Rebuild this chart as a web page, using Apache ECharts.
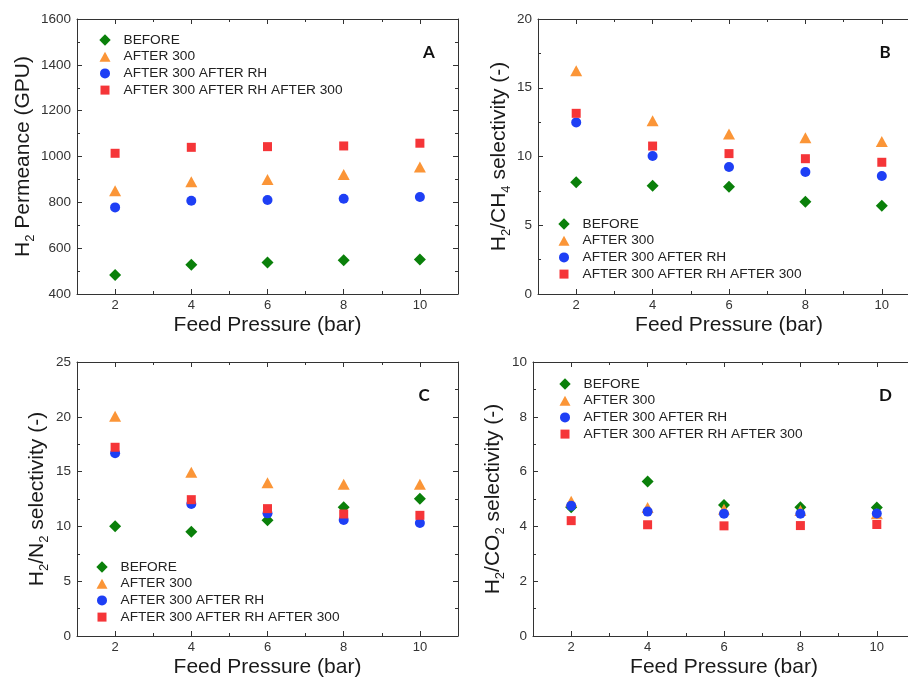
<!DOCTYPE html>
<html>
<head>
<meta charset="utf-8">
<script src="https://cdn.jsdelivr.net/npm/echarts@6/dist/echarts.min.js"></script>
<style>
html,body{margin:0;padding:0;background:#fff;}
#chart{width:908px;height:678px;}
</style>
</head>
<body>
<div id="chart"></div>
<script>
// ---------- DATA ----------
const pressures = [2, 4, 6, 8, 10];
const seriesNames = ['BEFORE', 'AFTER 300', 'AFTER 300 AFTER RH', 'AFTER 300 AFTER RH AFTER 300'];
const xMajorTicks = [2, 4, 6, 8, 10];
const xMinorTicks = [3, 5, 7, 9];

// Panel A: H2 permeance (GPU)
const permBefore     = [483, 528, 538, 547, 551];
const permAfter300   = [851, 890, 900, 922, 954];
const permAfterRH    = [778, 807, 810, 816, 823];
const permAfterRH300 = [1014, 1040, 1043, 1046, 1058];

// Panel B: H2/CH4 selectivity
const ch4Before     = [8.12, 7.88, 7.80, 6.71, 6.42];
const ch4After300   = [16.24, 12.60, 11.64, 11.37, 11.10];
const ch4AfterRH    = [12.48, 10.04, 9.24, 8.87, 8.58];
const ch4AfterRH300 = [13.14, 10.76, 10.21, 9.84, 9.58];

// Panel C: H2/N2 selectivity
const n2Before     = [10.01, 9.52, 10.56, 11.74, 12.53];
const n2After300   = [20.04, 14.93, 13.99, 13.84, 13.84];
const n2AfterRH    = [16.67, 12.04, 11.19, 10.58, 10.31];
const n2AfterRH300 = [17.22, 12.44, 11.62, 11.13, 11.01];

// Panel D: H2/CO2 selectivity
const co2Before     = [4.70, 5.64, 4.78, 4.70, 4.69];
const co2After300   = [4.92, 4.69, 4.63, 4.58, 4.46];
const co2AfterRH    = [4.75, 4.54, 4.46, 4.46, 4.47];
const co2AfterRH300 = [4.21, 4.06, 4.02, 4.03, 4.07];

// ---------- STYLE ----------
const FONT = "'Liberation Sans', Arial, sans-serif";
const AXIS_COLOR = '#333';
const LABEL_COLOR = '#333';
const NAME_COLOR = '#1a1a1a';
const markerStyles = [
  { symbol: 'diamond',  size: 12,       color: '#0a800a',
    icon: 'path://M0,0M12,12M6,0.3L11.7,6L6,11.7L0.3,6Z' },
  { symbol: 'triangle', size: [12, 11], color: '#fb9537',
    icon: 'path://M0,0M12,12M6,1L11.5,11L0.5,11Z' },
  { symbol: 'circle',   size: 10,       color: '#1e3ff5',
    icon: 'path://M0,0M12,12M1,6A5,5,0,1,1,11,6A5,5,0,1,1,1,6Z' },
  { symbol: 'rect',     size: 9,        color: '#f53538',
    icon: 'path://M0,0M12,12M1.5,1.5L10.5,1.5L10.5,10.5L1.5,10.5Z' }
];

const panels = [
  { grid: { left: 77, top: 19, width: 381, height: 275 }, yMin: 400, yMax: 1600, yInt: 200,
    yName: '{m|H}{s|2}{m| Permeance (GPU)}', yGap: 42, letter: 'A', letterPos: [429, 53],
    legendPos: [99, 33], data: [permBefore, permAfter300, permAfterRH, permAfterRH300] },
  { grid: { left: 538, top: 19, width: 382, height: 275 }, yMin: 0, yMax: 20, yInt: 5,
    yName: '{m|H}{s|2}{m|/CH}{s|4}{m| selectivity (-)}', yGap: 28, letter: 'B', letterPos: [885, 53],
    legendPos: [558, 217], data: [ch4Before, ch4After300, ch4AfterRH, ch4AfterRH300] },
  { grid: { left: 77, top: 362, width: 381, height: 274 }, yMin: 0, yMax: 25, yInt: 5,
    yName: '{m|H}{s|2}{m|/N}{s|2}{m| selectivity (-)}', yGap: 29, letter: 'C', letterPos: [424, 396],
    legendPos: [96, 560], data: [n2Before, n2After300, n2AfterRH, n2AfterRH300] },
  { grid: { left: 533, top: 362, width: 382, height: 274 }, yMin: 0, yMax: 10, yInt: 2,
    yName: '{m|H}{s|2}{m|/CO}{s|2}{m| selectivity (-)}', yGap: 29, letter: 'D', letterPos: [885.5, 396],
    legendPos: [559, 377], data: [co2Before, co2After300, co2AfterRH, co2AfterRH300] }
];

const nameRich = {
  m: { fontFamily: FONT, fontSize: 21, lineHeight: 21, color: NAME_COLOR, verticalAlign: 'top' },
  s: { fontFamily: FONT, fontSize: 13, lineHeight: 13, color: NAME_COLOR, verticalAlign: 'top', padding: [11, 0, 0, 0] }
};

const grids = [], xAxes = [], yAxes = [], series = [], legends = [], graphics = [];
const lineStyle = { color: AXIS_COLOR, width: 1 };

panels.forEach((p, gi) => {
  grids.push(Object.assign({ containLabel: false, outerBoundsMode: 'none' }, p.grid));
  const baseX = { gridIndex: gi, type: 'value', min: 1, max: 11, splitLine: { show: false } };
  xAxes.push(Object.assign({}, baseX, {
    position: 'bottom',
    axisLine: { show: true, onZero: false, lineStyle },
    axisTick: { show: true, inside: true, length: 5, customValues: xMajorTicks, lineStyle },
    axisLabel: { show: true, customValues: xMajorTicks, margin: 5, fontSize: 13, fontFamily: FONT, color: LABEL_COLOR },
    name: 'Feed Pressure (bar)', nameLocation: 'middle', nameGap: 21,
    nameTextStyle: { fontFamily: FONT, fontSize: 21, color: NAME_COLOR }
  }));
  xAxes.push(Object.assign({}, baseX, {
    position: 'bottom',
    axisLine: { show: false, onZero: false },
    axisTick: { show: true, inside: true, length: 3, customValues: xMinorTicks, lineStyle },
    axisLabel: { show: false }
  }));
  xAxes.push(Object.assign({}, baseX, {
    position: 'top',
    axisLine: { show: true, onZero: false, lineStyle },
    axisTick: { show: true, inside: true, length: 5, customValues: xMajorTicks, lineStyle },
    axisLabel: { show: false }
  }));
  xAxes.push(Object.assign({}, baseX, {
    position: 'top',
    axisLine: { show: false, onZero: false },
    axisTick: { show: true, inside: true, length: 3, customValues: xMinorTicks, lineStyle },
    axisLabel: { show: false }
  }));

  const baseY = { gridIndex: gi, type: 'value', min: p.yMin, max: p.yMax, interval: p.yInt,
    splitLine: { show: false }, minorSplitLine: { show: false } };
  yAxes.push(Object.assign({}, baseY, {
    position: 'left',
    axisLine: { show: true, onZero: false, lineStyle },
    axisTick: { show: true, inside: true, length: 5, lineStyle },
    minorTick: { show: true, splitNumber: 2, length: 3, lineStyle },
    axisLabel: { show: true, margin: 6, fontSize: 13.5, fontFamily: FONT, color: LABEL_COLOR,
      formatter: v => String(v) },
    name: p.yName, nameLocation: 'middle', nameGap: p.yGap,
    nameTextStyle: { rich: nameRich, fontFamily: FONT, fontSize: 21, color: NAME_COLOR }
  }));
  yAxes.push(Object.assign({}, baseY, {
    position: 'right',
    axisLine: { show: true, onZero: false, lineStyle },
    axisTick: { show: true, inside: true, length: 5, lineStyle },
    minorTick: { show: true, splitNumber: 2, length: 3, lineStyle },
    axisLabel: { show: false }
  }));

  p.data.forEach((vals, si) => {
    const ms = markerStyles[si];
    series.push({
      type: 'scatter',
      name: seriesNames[si],
      xAxisIndex: gi * 4,
      yAxisIndex: gi * 2,
      symbol: ms.symbol,
      symbolSize: ms.size,
      itemStyle: { color: ms.color, opacity: 1 },
      emphasis: { disabled: true },
      data: pressures.map((x, k) => [x, vals[k]])
    });
  });

  legends.push({
    orient: 'vertical',
    left: p.legendPos[0], top: p.legendPos[1],
    itemWidth: 12, itemHeight: 12, itemGap: 2.7,
    selectedMode: false,
    padding: 0,
    textStyle: { fontFamily: FONT, fontSize: 13.7, color: '#222', padding: [0, 0, 0, 7.5] },
    data: seriesNames.map((n, si) => ({ name: n, icon: markerStyles[si].icon }))
  });

  graphics.push({
    type: 'text',
    x: p.letterPos[0], y: p.letterPos[1],
    style: { text: p.letter, font: "bold 17px Lato, 'Open Sans', sans-serif", fill: '#111',
      textAlign: 'center', textVerticalAlign: 'middle' }
  });
});

const chart = echarts.init(document.getElementById('chart'), null, { renderer: 'canvas' });
chart.setOption({
  animation: false,
  backgroundColor: '#ffffff',
  grid: grids,
  xAxis: xAxes,
  yAxis: yAxes,
  legend: legends,
  series: series,
  graphic: graphics
});
</script>
</body>
</html>
